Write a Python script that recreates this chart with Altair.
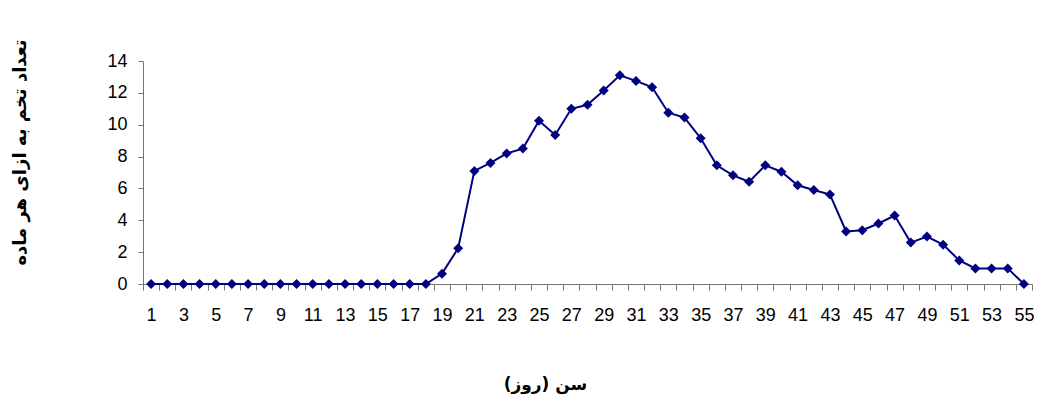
import altair as alt
import pandas as pd

days = list(range(1, 56))
eggs = [0, 0, 0, 0, 0, 0, 0, 0, 0, 0,
        0, 0, 0, 0, 0, 0, 0, 0, 0.65, 2.25,
        7.1, 7.6, 8.2, 8.5, 10.25, 9.35, 11.0, 11.25, 12.15, 13.1,
        12.75, 12.35, 10.75, 10.45, 9.15, 7.45, 6.82, 6.42, 7.45, 7.05,
        6.2, 5.9, 5.62, 3.3, 3.38, 3.8, 4.3, 2.6, 2.98, 2.47,
        1.48, 0.98, 0.98, 0.98, 0]

df = pd.DataFrame({"day": days, "eggs": eggs})

NAVY = "#000080"
AXC = "#777777"

x_enc = alt.X(
    "day:O",
    scale=alt.Scale(type="band", paddingInner=0, paddingOuter=0),
    axis=alt.Axis(
        title="سن (روز)",
        titleFont="DejaVu Sans",
        titleFontWeight="bold",
        titleFontSize=17,
        titleColor="black",
        titleX=402,
        titleY=100,
        titleAlign="center",
        titleBaseline="middle",
        labelExpr="datum.value % 2 == 1 ? datum.label : ''",
        labelAngle=0,
        labelOverlap=False,
        labelFont="Liberation Sans",
        labelFontSize=18,
        labelColor="black",
        labelPadding=16,
        tickBand="extent",
        tickSize=6,
        tickColor=AXC,
        domainColor=AXC,
        grid=False,
    ),
)

y_enc = alt.Y(
    "eggs:Q",
    scale=alt.Scale(domain=[0, 14]),
    axis=alt.Axis(
        title="تعداد تخم به ازای هر ماده",
        titleFont="DejaVu Sans",
        titleFontWeight="bold",
        titleFontSize=18,
        titleColor="black",
        titleX=-123,
        titleY=91,
        titleAngle=-90,
        titleAlign="center",
        titleBaseline="middle",
        values=[0, 2, 4, 6, 8, 10, 12, 14],
        labelFont="Liberation Sans",
        labelFontSize=18,
        labelColor="black",
        labelPadding=11,
        tickSize=5,
        tickColor=AXC,
        domainColor=AXC,
        grid=False,
    ),
)

base = alt.Chart(df).encode(x=x_enc, y=y_enc)
line = base.mark_line(color=NAVY, strokeWidth=2)
pts = base.mark_point(shape="diamond", filled=True, size=100, color=NAVY, opacity=1)

chart = (line + pts).properties(
    width=889,
    height=223,
    autosize="none",
    padding={"left": 135, "top": 53, "right": 2, "bottom": 111},
).configure_view(stroke=None)

chart.save("out.html", embed_options={"renderer": "svg", "actions": False})
